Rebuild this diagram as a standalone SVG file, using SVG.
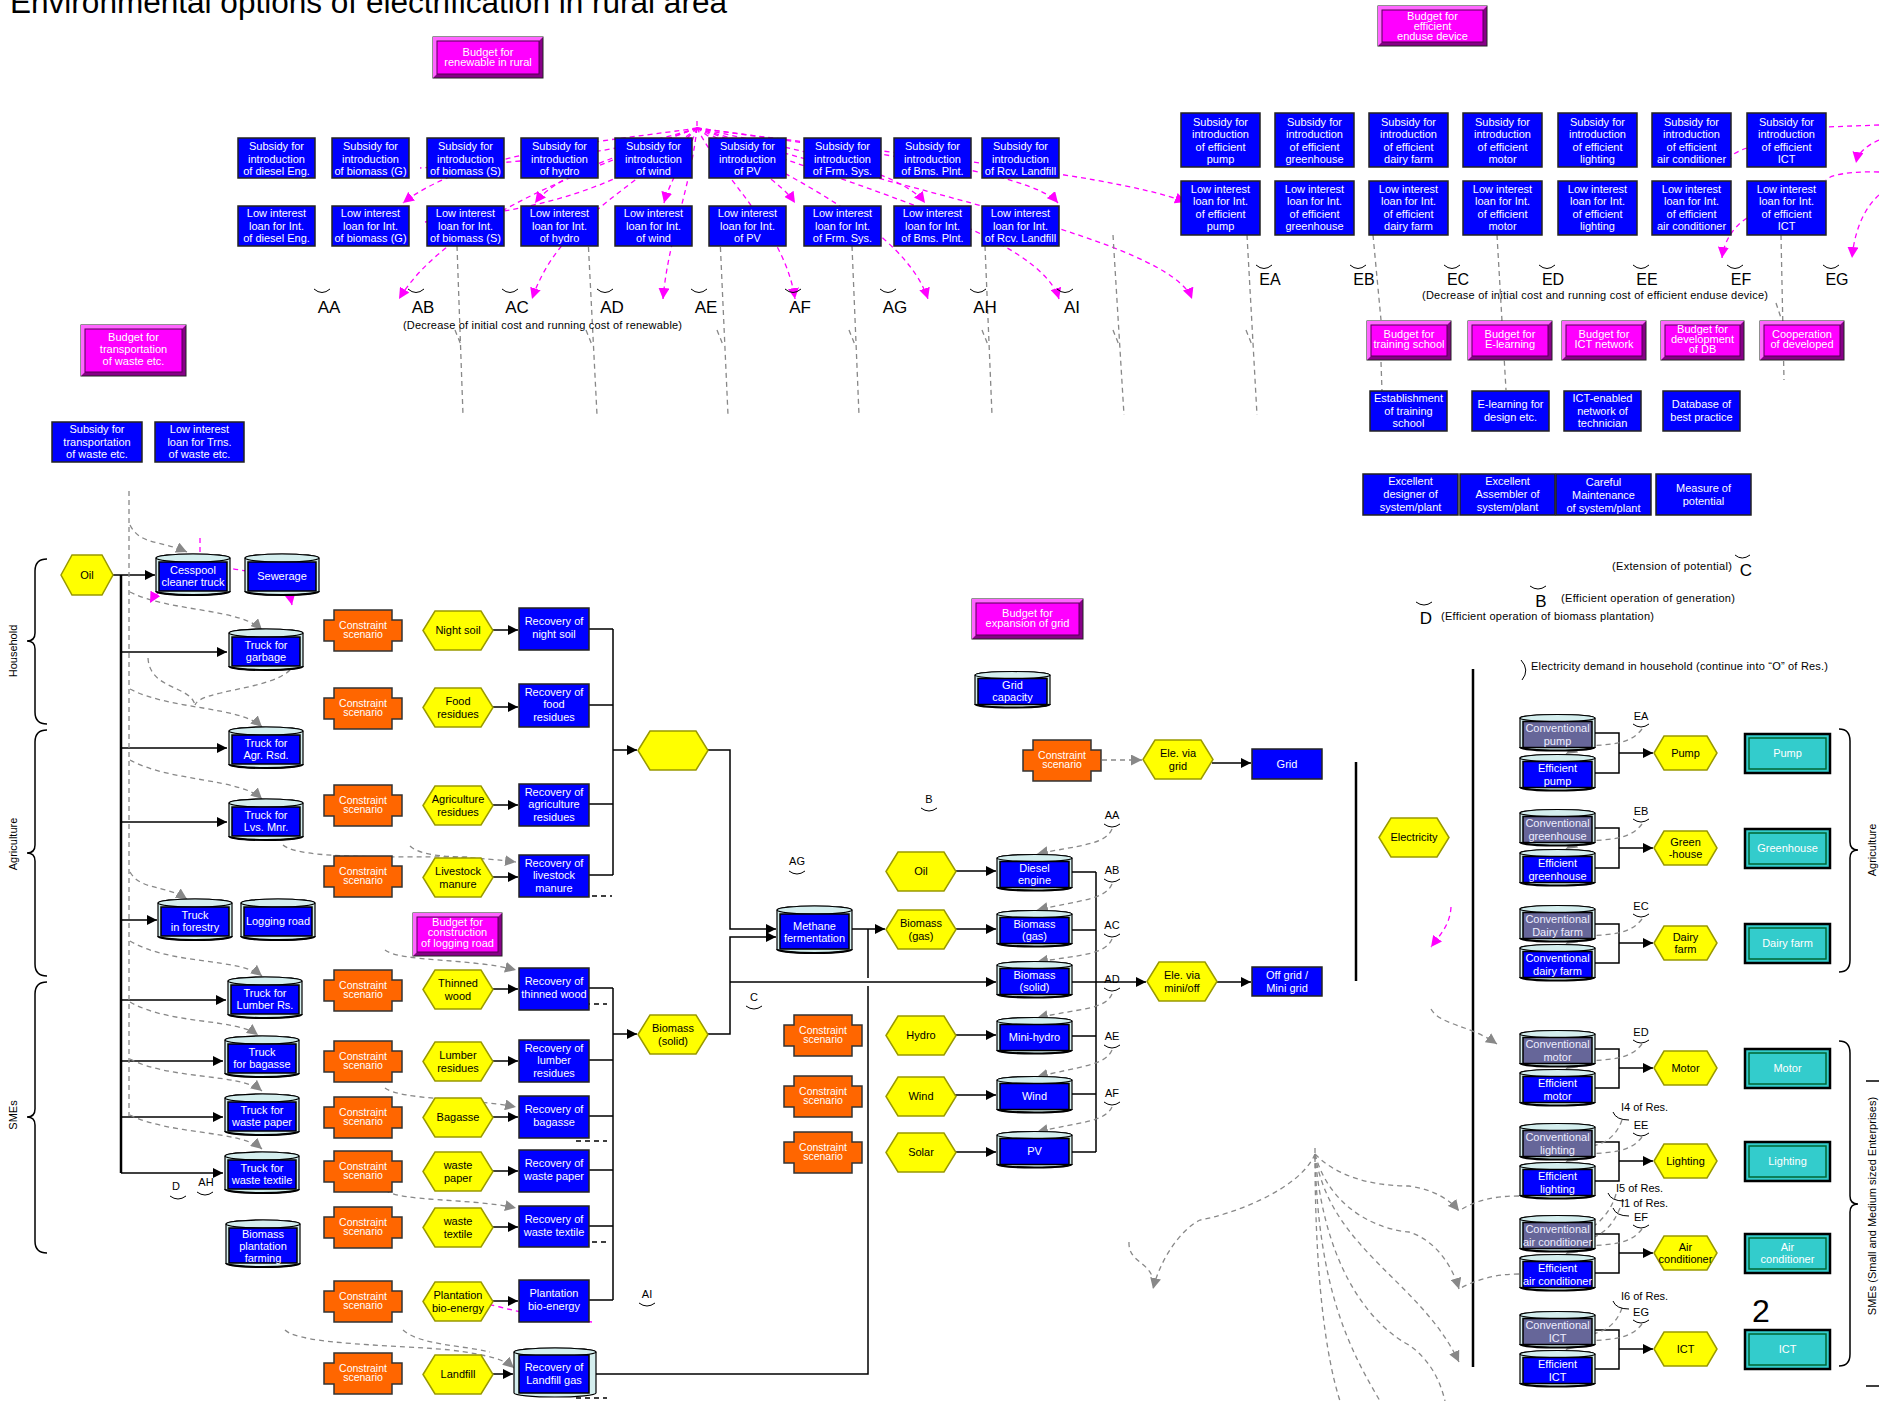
<svg xmlns="http://www.w3.org/2000/svg" width="1879" height="1401" viewBox="0 0 1879 1401">
<style>
text{font-family:"Liberation Sans","DejaVu Sans",sans-serif}
.w{fill:#fff;font-size:11px;text-anchor:middle}
.wc{fill:#fff;font-size:10.5px;text-anchor:middle}
.k{fill:#000;font-size:11px;text-anchor:middle}
.lb{fill:#000;font-size:17px;text-anchor:middle}
.le{fill:#000;font-size:16px;text-anchor:middle}
.sl{fill:#000;font-size:11px;text-anchor:middle}
.st{fill:#000;font-size:11px}
.bl{fill:#0000ff;stroke:#222;stroke-width:1.5}
.hx{fill:#ffff00;stroke:#999900;stroke-width:1.5}
.cs{fill:#ff6600;stroke:#333;stroke-width:1.5}
.mo{fill:#880088;stroke:#222;stroke-width:1}
.mh{fill:#ff66ff}
.mi{fill:#ff00ff;stroke:#550055;stroke-width:1}
.tl{fill:#33cccc;stroke:#000;stroke-width:2.5}
.ti{fill:none;stroke:#063;stroke-width:1.5}
.ln{fill:none;stroke:#000;stroke-width:1.5}
.lt{fill:none;stroke:#000;stroke-width:2.5}
.ar{fill:none;stroke:#000;stroke-width:1.5;marker-end:url(#ab)}
.gd{fill:none;stroke:#888;stroke-width:1.3;stroke-dasharray:5 4}
.ga{fill:none;stroke:#888;stroke-width:1.3;stroke-dasharray:5 4;marker-end:url(#ag)}
.md{fill:none;stroke:#ff00ff;stroke-width:1.3;stroke-dasharray:5 4}
.ma{fill:none;stroke:#ff00ff;stroke-width:1.3;stroke-dasharray:5 4;marker-end:url(#am)}
.arc{fill:none;stroke:#000;stroke-width:1}
.kd{fill:none;stroke:#000;stroke-width:1.3;stroke-dasharray:5 4}
.cyo{fill:#d4eeee;stroke:#000;stroke-width:1.2}
.cyb{fill:none;stroke:#000;stroke-width:2}
.cv{fill:#666699;stroke:#000;stroke-width:1.5}
.ef{fill:#0000ff;stroke:#000;stroke-width:1.5}
.wv{fill:#eeeeff;font-size:11px;text-anchor:middle}
</style>
<defs>
<marker id="ab" viewBox="0 0 10 10" refX="10" refY="5" markerWidth="10" markerHeight="10" markerUnits="userSpaceOnUse" orient="auto"><path d="M0,0 L10,5 L0,10 z" fill="#000"/></marker>
<marker id="ag" viewBox="0 0 10 10" refX="10" refY="5" markerWidth="11" markerHeight="11" markerUnits="userSpaceOnUse" orient="auto"><path d="M0,0 L10,5 L0,10 z" fill="#888"/></marker>
<marker id="am" viewBox="0 0 10 10" refX="10" refY="5" markerWidth="11" markerHeight="11" markerUnits="userSpaceOnUse" orient="auto"><path d="M0,0 L10,5 L0,10 z" fill="#ff00ff"/></marker>
<g id="cy74"><path d="M0,5 A37,4 0 0 1 74,5 V38 A37,4 0 0 1 0,38 Z" class="cyo"/><ellipse cx="37" cy="5" rx="37" ry="4" class="cyo"/><rect x="3" y="9" width="68" height="29" class="ef"/><path d="M0,38 A37,4 0 0 0 74,38" class="cyb"/></g>
<g id="cyE"><path d="M0,4 A37.5,3.5 0 0 1 75,4 V33 A37.5,3.5 0 0 1 0,33 Z" class="cyo"/><ellipse cx="37.5" cy="4" rx="37.5" ry="3.5" class="cyo"/><rect x="3" y="7.5" width="69" height="26" class="ef"/><path d="M0,33 A37.5,3.5 0 0 0 75,33" class="cyb"/></g>
<g id="cyC"><path d="M0,4 A37.5,3.5 0 0 1 75,4 V33 A37.5,3.5 0 0 1 0,33 Z" class="cyo"/><ellipse cx="37.5" cy="4" rx="37.5" ry="3.5" class="cyo"/><rect x="3" y="7.5" width="69" height="26" class="cv"/><path d="M0,33 A37.5,3.5 0 0 0 75,33" class="cyb"/></g>
<polygon id="hx70" points="0,19.5 12,0 58,0 70,19.5 58,39 12,39" class="hx"/>
<polygon id="hx63" points="0,17 10,0 53,0 63,17 53,34 10,34" class="hx"/>
<path id="cr" d="M10,0 H68 V10 H78 V31 H68 V41 H10 V31 H0 V10 H10 Z" class="cs"/>
</defs>
<rect width="1879" height="1401" fill="#fff"/>

<g id="title"><text x="10" y="13" font-size="31" textLength="717" lengthAdjust="spacingAndGlyphs">Environmental options of electrification in rural area</text></g>

<!-- ===== connectors ===== -->
<g id="connectors">
<path class="md" d="M697,121 V128"/>
<path class="ma" d="M697,128 C620,140 470,150 403,203"/>
<path class="ma" d="M697,128 C600,165 450,215 399,299"/>
<path class="ma" d="M697,128 C640,150 560,170 535,203"/>
<path class="ma" d="M697,128 C650,180 560,215 532,299"/>
<path class="ma" d="M697,128 C690,150 670,180 664,203"/>
<path class="ma" d="M697,128 C690,190 668,240 663,299"/>
<path class="ma" d="M697,128 C740,160 780,180 795,203"/>
<path class="ma" d="M697,128 C720,175 785,230 795,299"/>
<path class="ma" d="M697,128 C800,150 900,170 925,203"/>
<path class="ma" d="M697,128 C790,175 905,230 928,299"/>
<path class="ma" d="M697,128 C850,150 1030,170 1058,203"/>
<path class="ma" d="M697,128 C850,185 1040,235 1059,299"/>
<path class="ma" d="M697,128 C900,190 1170,240 1192,299"/>
<path class="ma" d="M697,128 C850,150 1100,170 1186,202"/>
<path class="md" d="M697,128 C600,160 470,165 420,168"/>
<path class="md" d="M697,128 C600,210 470,215 425,222"/>
<path class="md" d="M1879,125 L1826,127"/>
<path class="ma" d="M1879,140 C1868,145 1858,152 1856,163"/>
<path class="md" d="M1879,172 C1850,171 1830,175 1826,180"/>
<path class="ma" d="M1879,195 C1862,210 1854,235 1852,258"/>
<path class="ma" d="M1747,148 C1735,152 1726,158 1722,165"/>
<path class="ma" d="M1747,218 C1732,228 1724,242 1722,258"/>
<path class="gd" d="M457,246 L463,415 M455,330 L461,345"/>
<path class="gd" d="M588,238 L597,415 M586,330 L592,345"/>
<path class="gd" d="M720,238 L728,415 M717,330 L723,345"/>
<path class="gd" d="M852,246 L859,415 M849,330 L855,345"/>
<path class="gd" d="M985,246 L992,415 M982,330 L988,345"/>
<path class="gd" d="M1113,235 L1124,415 M1113,330 L1119,345"/>
<path class="gd" d="M1247,235 L1257,415 M1246,330 L1252,345"/>
<path class="gd" d="M1497,235 L1506,390"/>
<path class="gd" d="M1373,235 L1381,320 M1381,362 L1382,391"/>
<path class="gd" d="M1781,235 L1784,380 M1776,303 L1781,318"/>
<path class="ln" d="M113,575 H121"/>
<path class="lt" d="M121,575 V1173"/>
<path class="ar" d="M121,575 H155"/>
<path class="ar" d="M121,652 H227"/>
<path class="ar" d="M121,748 H227"/>
<path class="ar" d="M121,822 H227"/>
<path class="ar" d="M121,920 H157"/>
<path class="ar" d="M121,1000 H226"/>
<path class="ar" d="M121,1061 H223"/>
<path class="ar" d="M121,1117 H223"/>
<path class="ar" d="M121,1173 H223"/>
<path class="gd" d="M129,491 V1116"/>
<path class="ga" d="M130,525 C140,545 160,540 187,552"/>
<path class="ga" d="M130,592 C170,612 240,608 262,630"/>
<path class="gd" d="M148,658 C150,690 190,685 195,705 M290,670 C270,690 200,690 195,705"/>
<path class="ga" d="M130,689 C170,710 240,706 262,727"/>
<path class="ga" d="M130,760 C170,782 240,778 262,799"/>
<path class="ga" d="M130,872 C140,890 165,885 187,899"/>
<path class="ga" d="M130,941 C170,965 240,958 262,976"/>
<path class="ga" d="M130,1002 C170,1025 235,1018 258,1035"/>
<path class="ga" d="M130,1059 C170,1080 240,1073 262,1091"/>
<path class="ga" d="M130,1115 C170,1135 240,1130 262,1149"/>
<path class="ga" d="M283,845 C300,860 400,856 450,857 C480,858 500,860 516,862"/>
<path class="gd" d="M410,846 C420,856 450,857 470,857"/>
<path class="ga" d="M385,950 C400,962 470,958 516,970"/>
<path class="ga" d="M385,1088 C400,1100 470,1098 516,1107"/>
<path class="ga" d="M385,1190 C400,1202 470,1198 516,1208"/>
<path class="ga" d="M285,1330 C300,1345 400,1345 450,1350 C490,1355 505,1360 514,1368"/>
<path class="gd" d="M403,1330 C420,1345 460,1345 490,1352"/>
<path class="md" d="M200,538 V556"/>
<path class="ma" d="M200,556 C195,570 160,585 150,603"/>
<path class="ma" d="M200,556 C215,570 250,570 270,575 C285,585 290,595 292,605"/>
<path class="ma" d="M592,1322 C560,1318 530,1315 500,1307 C480,1302 465,1302 452,1302"/>
<path class="ar" d="M493,630 H518"/>
<path class="ar" d="M493,707 H518"/>
<path class="ar" d="M493,805 H518"/>
<path class="ar" d="M493,877 H518"/>
<path class="ar" d="M493,989 H518"/>
<path class="ar" d="M493,1061 H518"/>
<path class="ar" d="M493,1117 H518"/>
<path class="ar" d="M493,1171 H518"/>
<path class="ar" d="M493,1227 H518"/>
<path class="ar" d="M493,1301 H518"/>
<path class="ar" d="M493,1374 H513"/>
<path class="ln" d="M589,629 H613 M589,705 H613 M589,804 H613 M589,875 H613 M613,629 V875"/>
<path class="ar" d="M613,750 H637"/>
<path class="ln" d="M589,988 H613 M589,1060 H613 M589,1116 H613 M589,1170 H613 M589,1226 H613 M589,1300 H613 M613,988 V1300"/>
<path class="ar" d="M613,1034 H637"/>
<path class="kd" d="M592,896 H612 M576,1004 H607 M576,1141 H607 M592,1242 H607 M576,1398 H607"/>
<path class="ar" d="M707,750 H730 V929 H776"/>
<path class="ar" d="M707,1034 H730 V937 H776"/>
<path class="ar" d="M730,982 H996"/>
<path class="ar" d="M852,929 H885"/>
<path class="ln" d="M596,1374 H868 V986 M868,978 V929"/>
<path class="ar" d="M955,871 H996"/>
<path class="ar" d="M955,929 H996"/>
<path class="ar" d="M955,1035 H996"/>
<path class="ar" d="M955,1095 H996"/>
<path class="ar" d="M955,1152 H996"/>
<path class="ln" d="M1072,872 H1096 M1072,930 H1096 M1072,1036 H1096 M1072,1094 H1096 M1072,1152 H1096 M1096,872 V1152 M1072,982 H1096"/>
<path class="ar" d="M1096,982 H1146"/>
<path class="ar" d="M1216,982 H1251"/>
<path class="ga" d="M1102,760 H1142"/>
<path class="ar" d="M1212,763 H1251"/>
<path class="ga" d="M1112,829 C1105,845 1080,845 1037,854"/>
<path class="ga" d="M1112,884 C1105,900 1080,900 1037,910"/>
<path class="ga" d="M1112,939 C1105,955 1080,955 1037,962"/>
<path class="ga" d="M1112,994 C1105,1010 1080,1008 1037,1018"/>
<path class="ga" d="M1112,1050 C1105,1066 1080,1066 1037,1077"/>
<path class="ga" d="M1112,1107 C1105,1122 1080,1122 1037,1132"/>
<path class="lt" d="M1356,762 V981"/>
<path class="lt" d="M1473,669 V1367"/>
<path class="ma" d="M1451,907 C1450,925 1440,935 1431,947"/>
<path class="ga" d="M1431,1009 C1440,1025 1470,1025 1497,1044"/>
<path class="gd" d="M1315,1148 V1165"/>
<path class="ga" d="M1315,1154 C1300,1190 1230,1215 1200,1220 C1180,1230 1160,1260 1153,1289"/>
<path class="gd" d="M1129,1242 C1128,1262 1150,1262 1153,1280"/>
<path class="ga" d="M1315,1154 C1340,1180 1380,1186 1409,1186 C1435,1190 1450,1200 1459,1211"/>
<path class="gd" d="M1519,1196 C1495,1196 1475,1200 1459,1211"/>
<path class="ga" d="M1315,1154 C1330,1210 1380,1230 1409,1232 C1435,1240 1452,1265 1459,1289"/>
<path class="gd" d="M1519,1274 C1495,1274 1475,1280 1459,1289"/>
<path class="ga" d="M1315,1154 C1330,1250 1420,1280 1459,1362"/>
<path class="gd" d="M1315,1154 C1325,1280 1380,1330 1409,1345 C1430,1360 1440,1380 1445,1401"/>
<path class="gd" d="M1315,1154 C1318,1290 1350,1350 1380,1401"/>
<path class="gd" d="M1315,1154 C1315,1300 1330,1370 1340,1401"/>
<path class="ln" d="M1595,733 H1619 V773 H1595"/><path class="ar" d="M1619,753 H1653"/>
<path class="ln" d="M1595,828 H1619 V868 H1595"/><path class="ar" d="M1619,848 H1653"/>
<path class="ln" d="M1595,924 H1619 V963 H1595"/><path class="ar" d="M1619,943 H1653"/>
<path class="ln" d="M1595,1049 H1619 V1088 H1595"/><path class="ar" d="M1619,1068 H1653"/>
<path class="ln" d="M1595,1142 H1619 V1181 H1595"/><path class="ar" d="M1619,1161 H1653"/>
<path class="ln" d="M1595,1234 H1619 V1273 H1595"/><path class="ar" d="M1619,1253 H1653"/>
<path class="ln" d="M1595,1330 H1619 V1369 H1595"/><path class="ar" d="M1619,1349 H1653"/>
<path class="ga" d="M1642,729 C1630,745 1610,744 1590,746 C1580,748 1572,750 1566,754"/>
<path class="ga" d="M1642,824 C1630,840 1610,839 1590,841 C1580,843 1572,845 1566,849"/>
<path class="ga" d="M1642,919 C1630,935 1610,934 1590,936 C1580,938 1572,940 1566,944"/>
<path class="ga" d="M1642,1044 C1630,1060 1610,1059 1590,1061 C1580,1063 1572,1065 1566,1069"/>
<path class="ga" d="M1642,1137 C1630,1153 1610,1152 1590,1154 C1580,1156 1572,1158 1566,1162"/>
<path class="gd" d="M1622,1120 C1615,1140 1600,1145 1590,1146"/>
<path class="ga" d="M1642,1229 C1630,1245 1610,1244 1590,1246 C1580,1248 1572,1250 1566,1254"/>
<path class="gd" d="M1620,1208 C1612,1228 1600,1236 1590,1238 M1616,1194 C1610,1215 1595,1226 1588,1230"/>
<path class="ga" d="M1642,1324 C1630,1340 1610,1339 1590,1341 C1580,1343 1572,1345 1566,1350"/>
<path class="gd" d="M1622,1308 C1615,1328 1600,1333 1590,1334"/>
<path class="ln" d="M47,559 Q35,559 35,571 V633 Q35,641 27,641 Q35,641 35,649 V712 Q35,724 47,724"/>
<path class="ln" d="M47,730 Q35,730 35,742 V845 Q35,853 27,853 Q35,853 35,861 V964 Q35,976 47,976"/>
<path class="ln" d="M47,982 Q35,982 35,994 V1109 Q35,1117 27,1117 Q35,1117 35,1125 V1241 Q35,1253 47,1253"/>
<path class="ln" d="M1839,729 Q1850,729 1850,741 V842 Q1850,850 1858,850 Q1850,850 1850,858 V960 Q1850,972 1839,972"/>
<path class="ln" d="M1839,1041 Q1850,1041 1850,1053 V1196 Q1850,1204 1858,1204 Q1850,1204 1850,1212 V1354 Q1850,1366 1839,1366"/>
<path class="ln" d="M1866,1081 H1879 M1866,1386 H1879"/>
<path class="arc" d="M314,289 Q322,296 330,289 M408,289 Q416,296 424,289 M502,289 Q510,296 518,289 M597,289 Q605,296 613,289 M691,289 Q699,296 707,289 M785,289 Q793,296 801,289 M880,289 Q888,296 896,289 M970,289 Q978,296 986,289 M1057,289 Q1065,296 1073,289"/>
<path class="arc" d="M1256,265 Q1264,272 1272,265 M1350,265 Q1358,272 1366,265 M1444,265 Q1452,272 1460,265 M1539,265 Q1547,272 1555,265 M1633,265 Q1641,272 1649,265 M1727,265 Q1735,272 1743,265 M1823,265 Q1831,272 1839,265"/>
<path class="arc" d="M1735,555 Q1742,561 1750,555 M1530,586 Q1538,592 1546,586 M1416,602 Q1424,608 1432,602"/>
<path class="arc" d="M1521,660 Q1530,670 1522,680"/>
<path class="arc" d="M789,871 Q797,877 805,871 M921,808 Q929,814 937,808 M746,1006 Q754,1012 762,1006 M639,1303 Q647,1309 655,1303 M170,1196 Q178,1202 186,1196 M197,1192 Q205,1198 213,1192"/>
<path class="arc" d="M1104,824 Q1112,830 1120,824 M1104,879 Q1112,885 1120,879 M1104,934 Q1112,940 1120,934 M1104,988 Q1112,994 1120,988 M1104,1045 Q1112,1051 1120,1045 M1104,1102 Q1112,1108 1120,1102"/>
<path class="arc" d="M1633,724 Q1641,730 1649,724 M1633,819 Q1641,825 1649,819 M1633,914 Q1641,920 1649,914 M1633,1040 Q1641,1046 1649,1040 M1633,1133 Q1641,1139 1649,1133 M1633,1225 Q1641,1231 1649,1225 M1633,1320 Q1641,1326 1649,1320"/>
<path class="arc" d="M1613,1112 Q1616,1120 1629,1120 M1608,1193 Q1611,1201 1624,1201 M1613,1208 Q1616,1216 1629,1216 M1613,1301 Q1616,1309 1629,1309"/>
</g>

<!-- ===== labels ===== -->
<g id="labels">
<text class="lb" x="329" y="313">AA</text><text class="lb" x="423" y="313">AB</text><text class="lb" x="517" y="313">AC</text>
<text class="lb" x="612" y="313">AD</text><text class="lb" x="706" y="313">AE</text><text class="lb" x="800" y="313">AF</text>
<text class="lb" x="895" y="313">AG</text><text class="lb" x="985" y="313">AH</text><text class="lb" x="1072" y="313">AI</text>
<text class="st" x="403" y="329" font-size="10.5" textLength="279">(Decrease of initial cost and running cost of renewable)</text>
<text class="le" x="1270" y="285">EA</text><text class="le" x="1364" y="285">EB</text><text class="le" x="1458" y="285">EC</text>
<text class="le" x="1553" y="285">ED</text><text class="le" x="1647" y="285">EE</text><text class="le" x="1741" y="285">EF</text>
<text class="le" x="1837" y="285">EG</text>
<text class="st" x="1422" y="299" font-size="10.5" textLength="346">(Decrease of initial cost and running cost of efficient enduse device)</text>
<text class="st" x="1612" y="570" textLength="120">(Extension of potential)</text>
<text class="lb" x="1746" y="576">C</text>
<text class="lb" x="1541" y="607">B</text>
<text class="st" x="1561" y="602" textLength="174">(Efficient operation of generation)</text>
<text class="lb" x="1426" y="624">D</text>
<text class="st" x="1441" y="620" textLength="213">(Efficient operation of biomass plantation)</text>
<text class="st" x="1531" y="670" textLength="297">Electricity demand in household  (continue into “O” of Res.)</text>
<text class="sl" x="797" y="865">AG</text><text class="sl" x="929" y="803">B</text><text class="sl" x="754" y="1001">C</text>
<text class="sl" x="647" y="1298">AI</text><text class="sl" x="176" y="1190">D</text><text class="sl" x="206" y="1186">AH</text>
<text class="sl" x="1112" y="819">AA</text><text class="sl" x="1112" y="874">AB</text><text class="sl" x="1112" y="929">AC</text>
<text class="sl" x="1112" y="983">AD</text><text class="sl" x="1112" y="1040">AE</text><text class="sl" x="1112" y="1097">AF</text>
<text class="sl" x="1641" y="720">EA</text><text class="sl" x="1641" y="815">EB</text><text class="sl" x="1641" y="910">EC</text>
<text class="sl" x="1641" y="1036">ED</text><text class="sl" x="1641" y="1129">EE</text><text class="sl" x="1641" y="1221">EF</text>
<text class="sl" x="1641" y="1316">EG</text>
<text class="st" x="1621" y="1111">I4 of Res.</text><text class="st" x="1616" y="1192">I5 of Res.</text>
<text class="st" x="1621" y="1207">I1 of Res.</text><text class="st" x="1621" y="1300">I6 of Res.</text>
<text x="1752" y="1322" font-size="32">2</text>
<text class="k" transform="translate(17,651) rotate(-90)">Household</text>
<text class="k" transform="translate(17,844) rotate(-90)">Agriculture</text>
<text class="k" transform="translate(17,1115) rotate(-90)">SMEs</text>
<text class="k" transform="translate(1876,850) rotate(-90)">Agriculture</text>
<text class="k" transform="translate(1876,1206) rotate(-90)">SMEs (Small and Medium sized Enterprises)</text>
</g>

<!-- ===== budgets ===== -->
<g id="budget-renewable" transform="translate(433,37)"><rect width="110" height="41" class="mo"/><polygon points="0,0 110,0 106,4 4,4 4,37 0,41" class="mh"/><rect x="4" y="4" width="102" height="33" class="mi"/><text class="w"><tspan x="55" y="19">Budget for</tspan><tspan x="55" y="29">renewable in rural</tspan></text></g>
<g id="budget-enduse" transform="translate(1378,6)"><rect width="109" height="40" class="mo"/><polygon points="0,0 109,0 105,4 4,4 4,36 0,40" class="mh"/><rect x="4" y="4" width="101" height="32" class="mi"/><text class="w"><tspan x="54.5" y="14">Budget for</tspan><tspan x="54.5" y="24">efficient</tspan><tspan x="54.5" y="34">enduse device</tspan></text></g>
<g id="budget-transport" transform="translate(81,325)"><rect width="105" height="51" class="mo"/><polygon points="0,0 105,0 101,4 4,4 4,47 0,51" class="mh"/><rect x="4" y="4" width="97" height="43" class="mi"/><text class="w"><tspan x="52.5" y="16">Budget for</tspan><tspan x="52.5" y="28">transportation</tspan><tspan x="52.5" y="40">of waste etc.</tspan></text></g>
<g id="budget-grid" transform="translate(972,599)"><rect width="111" height="40" class="mo"/><polygon points="0,0 111,0 107,4 4,4 4,36 0,40" class="mh"/><rect x="4" y="4" width="103" height="32" class="mi"/><text class="w"><tspan x="55.5" y="18">Budget for</tspan><tspan x="55.5" y="28">expansion of grid</tspan></text></g>
<g id="budget-logging" transform="translate(413,913)"><rect width="89" height="43" class="mo"/><polygon points="0,0 89,0 85,4 4,4 4,39 0,43" class="mh"/><rect x="4" y="4" width="81" height="35" class="mi"/><text class="w" font-size="10.5"><tspan x="44.5" y="13">Budget for</tspan><tspan x="44.5" y="23">construction</tspan><tspan x="44.5" y="34">of logging road</tspan></text></g>
<g id="budget-training" transform="translate(1367,321)"><rect width="84" height="39" class="mo"/><polygon points="0,0 84,0 80,4 4,4 4,35 0,39" class="mh"/><rect x="4" y="4" width="76" height="31" class="mi"/><text class="w"><tspan x="42" y="17">Budget for</tspan><tspan x="42" y="27">training school</tspan></text></g>
<g id="budget-elearning" transform="translate(1468,321)"><rect width="84" height="39" class="mo"/><polygon points="0,0 84,0 80,4 4,4 4,35 0,39" class="mh"/><rect x="4" y="4" width="76" height="31" class="mi"/><text class="w"><tspan x="42" y="17">Budget for</tspan><tspan x="42" y="27">E-learning</tspan></text></g>
<g id="budget-ict" transform="translate(1562,321)"><rect width="84" height="39" class="mo"/><polygon points="0,0 84,0 80,4 4,4 4,35 0,39" class="mh"/><rect x="4" y="4" width="76" height="31" class="mi"/><text class="w"><tspan x="42" y="17">Budget for</tspan><tspan x="42" y="27">ICT network</tspan></text></g>
<g id="budget-db" transform="translate(1661,321)"><rect width="83" height="39" class="mo"/><polygon points="0,0 83,0 79,4 4,4 4,35 0,39" class="mh"/><rect x="4" y="4" width="75" height="31" class="mi"/><text class="w"><tspan x="41.5" y="12">Budget for</tspan><tspan x="41.5" y="22">development</tspan><tspan x="41.5" y="32">of DB</tspan></text></g>
<g id="coop-developed" transform="translate(1760,321)"><rect width="84" height="39" class="mo"/><polygon points="0,0 84,0 80,4 4,4 4,35 0,39" class="mh"/><rect x="4" y="4" width="76" height="31" class="mi"/><text class="w"><tspan x="42" y="17">Cooperation</tspan><tspan x="42" y="27">of developed</tspan></text></g>

<!-- ===== renewable subsidy / loan ===== -->
<g id="sub-diesel" transform="translate(238,138)"><rect width="77" height="40" class="bl"/><text class="w"><tspan x="38.5" y="12">Subsidy for</tspan><tspan x="38.5" y="25">introduction</tspan><tspan x="38.5" y="37">of diesel Eng.</tspan></text></g>
<g id="sub-biomassG" transform="translate(332,138)"><rect width="77" height="40" class="bl"/><text class="w"><tspan x="38.5" y="12">Subsidy for</tspan><tspan x="38.5" y="25">introduction</tspan><tspan x="38.5" y="37">of biomass (G)</tspan></text></g>
<g id="sub-biomassS" transform="translate(427,138)"><rect width="77" height="40" class="bl"/><text class="w"><tspan x="38.5" y="12">Subsidy for</tspan><tspan x="38.5" y="25">introduction</tspan><tspan x="38.5" y="37">of biomass (S)</tspan></text></g>
<g id="sub-hydro" transform="translate(521,138)"><rect width="77" height="40" class="bl"/><text class="w"><tspan x="38.5" y="12">Subsidy for</tspan><tspan x="38.5" y="25">introduction</tspan><tspan x="38.5" y="37">of hydro</tspan></text></g>
<g id="sub-wind" transform="translate(615,138)"><rect width="77" height="40" class="bl"/><text class="w"><tspan x="38.5" y="12">Subsidy for</tspan><tspan x="38.5" y="25">introduction</tspan><tspan x="38.5" y="37">of wind</tspan></text></g>
<g id="sub-pv" transform="translate(709,138)"><rect width="77" height="40" class="bl"/><text class="w"><tspan x="38.5" y="12">Subsidy for</tspan><tspan x="38.5" y="25">introduction</tspan><tspan x="38.5" y="37">of PV</tspan></text></g>
<g id="sub-frm" transform="translate(804,138)"><rect width="77" height="40" class="bl"/><text class="w"><tspan x="38.5" y="12">Subsidy for</tspan><tspan x="38.5" y="25">introduction</tspan><tspan x="38.5" y="37">of Frm. Sys.</tspan></text></g>
<g id="sub-bms" transform="translate(894,138)"><rect width="77" height="40" class="bl"/><text class="w"><tspan x="38.5" y="12">Subsidy for</tspan><tspan x="38.5" y="25">introduction</tspan><tspan x="38.5" y="37">of Bms. Plnt.</tspan></text></g>
<g id="sub-rcv" transform="translate(982,138)"><rect width="77" height="40" class="bl"/><text class="w"><tspan x="38.5" y="12">Subsidy for</tspan><tspan x="38.5" y="25">introduction</tspan><tspan x="38.5" y="37">of Rcv. Landfill</tspan></text></g>
<g id="loan-diesel" transform="translate(238,206)"><rect width="77" height="40" class="bl"/><text class="w"><tspan x="38.5" y="11">Low interest</tspan><tspan x="38.5" y="24">loan for Int.</tspan><tspan x="38.5" y="36">of diesel Eng.</tspan></text></g>
<g id="loan-biomassG" transform="translate(332,206)"><rect width="77" height="40" class="bl"/><text class="w"><tspan x="38.5" y="11">Low interest</tspan><tspan x="38.5" y="24">loan for Int.</tspan><tspan x="38.5" y="36">of biomass (G)</tspan></text></g>
<g id="loan-biomassS" transform="translate(427,206)"><rect width="77" height="40" class="bl"/><text class="w"><tspan x="38.5" y="11">Low interest</tspan><tspan x="38.5" y="24">loan for Int.</tspan><tspan x="38.5" y="36">of biomass (S)</tspan></text></g>
<g id="loan-hydro" transform="translate(521,206)"><rect width="77" height="40" class="bl"/><text class="w"><tspan x="38.5" y="11">Low interest</tspan><tspan x="38.5" y="24">loan for Int.</tspan><tspan x="38.5" y="36">of hydro</tspan></text></g>
<g id="loan-wind" transform="translate(615,206)"><rect width="77" height="40" class="bl"/><text class="w"><tspan x="38.5" y="11">Low interest</tspan><tspan x="38.5" y="24">loan for Int.</tspan><tspan x="38.5" y="36">of wind</tspan></text></g>
<g id="loan-pv" transform="translate(709,206)"><rect width="77" height="40" class="bl"/><text class="w"><tspan x="38.5" y="11">Low interest</tspan><tspan x="38.5" y="24">loan for Int.</tspan><tspan x="38.5" y="36">of PV</tspan></text></g>
<g id="loan-frm" transform="translate(804,206)"><rect width="77" height="40" class="bl"/><text class="w"><tspan x="38.5" y="11">Low interest</tspan><tspan x="38.5" y="24">loan for Int.</tspan><tspan x="38.5" y="36">of Frm. Sys.</tspan></text></g>
<g id="loan-bms" transform="translate(894,206)"><rect width="77" height="40" class="bl"/><text class="w"><tspan x="38.5" y="11">Low interest</tspan><tspan x="38.5" y="24">loan for Int.</tspan><tspan x="38.5" y="36">of Bms. Plnt.</tspan></text></g>
<g id="loan-rcv" transform="translate(982,206)"><rect width="77" height="40" class="bl"/><text class="w"><tspan x="38.5" y="11">Low interest</tspan><tspan x="38.5" y="24">loan for Int.</tspan><tspan x="38.5" y="36">of Rcv. Landfill</tspan></text></g>

<!-- ===== efficient subsidy / loan ===== -->
<g id="esub-pump" transform="translate(1181,113)"><rect width="79" height="54" class="bl"/><text class="w"><tspan x="39.5" y="13">Subsidy for</tspan><tspan x="39.5" y="25">introduction</tspan><tspan x="39.5" y="38">of efficient</tspan><tspan x="39.5" y="50">pump</tspan></text></g>
<g id="esub-greenhouse" transform="translate(1275,113)"><rect width="79" height="54" class="bl"/><text class="w"><tspan x="39.5" y="13">Subsidy for</tspan><tspan x="39.5" y="25">introduction</tspan><tspan x="39.5" y="38">of efficient</tspan><tspan x="39.5" y="50">greenhouse</tspan></text></g>
<g id="esub-dairy" transform="translate(1369,113)"><rect width="79" height="54" class="bl"/><text class="w"><tspan x="39.5" y="13">Subsidy for</tspan><tspan x="39.5" y="25">introduction</tspan><tspan x="39.5" y="38">of efficient</tspan><tspan x="39.5" y="50">dairy farm</tspan></text></g>
<g id="esub-motor" transform="translate(1463,113)"><rect width="79" height="54" class="bl"/><text class="w"><tspan x="39.5" y="13">Subsidy for</tspan><tspan x="39.5" y="25">introduction</tspan><tspan x="39.5" y="38">of efficient</tspan><tspan x="39.5" y="50">motor</tspan></text></g>
<g id="esub-lighting" transform="translate(1558,113)"><rect width="79" height="54" class="bl"/><text class="w"><tspan x="39.5" y="13">Subsidy for</tspan><tspan x="39.5" y="25">introduction</tspan><tspan x="39.5" y="38">of efficient</tspan><tspan x="39.5" y="50">lighting</tspan></text></g>
<g id="esub-ac" transform="translate(1652,113)"><rect width="79" height="54" class="bl"/><text class="w"><tspan x="39.5" y="13">Subsidy for</tspan><tspan x="39.5" y="25">introduction</tspan><tspan x="39.5" y="38">of efficient</tspan><tspan x="39.5" y="50">air conditioner</tspan></text></g>
<g id="esub-ict" transform="translate(1747,113)"><rect width="79" height="54" class="bl"/><text class="w"><tspan x="39.5" y="13">Subsidy for</tspan><tspan x="39.5" y="25">introduction</tspan><tspan x="39.5" y="38">of efficient</tspan><tspan x="39.5" y="50">ICT</tspan></text></g>
<g id="eloan-pump" transform="translate(1181,181)"><rect width="79" height="54" class="bl"/><text class="w"><tspan x="39.5" y="12">Low interest</tspan><tspan x="39.5" y="24">loan for Int.</tspan><tspan x="39.5" y="37">of efficient</tspan><tspan x="39.5" y="49">pump</tspan></text></g>
<g id="eloan-greenhouse" transform="translate(1275,181)"><rect width="79" height="54" class="bl"/><text class="w"><tspan x="39.5" y="12">Low interest</tspan><tspan x="39.5" y="24">loan for Int.</tspan><tspan x="39.5" y="37">of efficient</tspan><tspan x="39.5" y="49">greenhouse</tspan></text></g>
<g id="eloan-dairy" transform="translate(1369,181)"><rect width="79" height="54" class="bl"/><text class="w"><tspan x="39.5" y="12">Low interest</tspan><tspan x="39.5" y="24">loan for Int.</tspan><tspan x="39.5" y="37">of efficient</tspan><tspan x="39.5" y="49">dairy farm</tspan></text></g>
<g id="eloan-motor" transform="translate(1463,181)"><rect width="79" height="54" class="bl"/><text class="w"><tspan x="39.5" y="12">Low interest</tspan><tspan x="39.5" y="24">loan for Int.</tspan><tspan x="39.5" y="37">of efficient</tspan><tspan x="39.5" y="49">motor</tspan></text></g>
<g id="eloan-lighting" transform="translate(1558,181)"><rect width="79" height="54" class="bl"/><text class="w"><tspan x="39.5" y="12">Low interest</tspan><tspan x="39.5" y="24">loan for Int.</tspan><tspan x="39.5" y="37">of efficient</tspan><tspan x="39.5" y="49">lighting</tspan></text></g>
<g id="eloan-ac" transform="translate(1652,181)"><rect width="79" height="54" class="bl"/><text class="w"><tspan x="39.5" y="12">Low interest</tspan><tspan x="39.5" y="24">loan for Int.</tspan><tspan x="39.5" y="37">of efficient</tspan><tspan x="39.5" y="49">air conditioner</tspan></text></g>
<g id="eloan-ict" transform="translate(1747,181)"><rect width="79" height="54" class="bl"/><text class="w"><tspan x="39.5" y="12">Low interest</tspan><tspan x="39.5" y="24">loan for Int.</tspan><tspan x="39.5" y="37">of efficient</tspan><tspan x="39.5" y="49">ICT</tspan></text></g>

<!-- capacity building -->
<g id="est-training" transform="translate(1370,391)"><rect width="77" height="40" class="bl"/><text class="w"><tspan x="38.5" y="11">Establishment</tspan><tspan x="38.5" y="24">of training</tspan><tspan x="38.5" y="36">school</tspan></text></g>
<g id="elearning" transform="translate(1472,391)"><rect width="77" height="40" class="bl"/><text class="w"><tspan x="38.5" y="17">E-learning for</tspan><tspan x="38.5" y="30">design etc.</tspan></text></g>
<g id="ict-network" transform="translate(1564,391)"><rect width="77" height="40" class="bl"/><text class="w"><tspan x="38.5" y="11">ICT-enabled</tspan><tspan x="38.5" y="24">network of</tspan><tspan x="38.5" y="36">technician</tspan></text></g>
<g id="database" transform="translate(1663,391)"><rect width="77" height="40" class="bl"/><text class="w"><tspan x="38.5" y="17">Database of</tspan><tspan x="38.5" y="30">best practice</tspan></text></g>
<g id="exc-designer" transform="translate(1363,474)"><rect width="95" height="41" class="bl"/><text class="w"><tspan x="47.5" y="11">Excellent</tspan><tspan x="47.5" y="24">designer of</tspan><tspan x="47.5" y="37">system/plant</tspan></text></g>
<g id="exc-assembler" transform="translate(1460,474)"><rect width="95" height="41" class="bl"/><text class="w"><tspan x="47.5" y="11">Excellent</tspan><tspan x="47.5" y="24">Assembler of</tspan><tspan x="47.5" y="37">system/plant</tspan></text></g>
<g id="careful-maint" transform="translate(1556,474)"><rect width="95" height="41" class="bl"/><text class="w"><tspan x="47.5" y="12">Careful</tspan><tspan x="47.5" y="25">Maintenance</tspan><tspan x="47.5" y="38">of system/plant</tspan></text></g>
<g id="measure-potential" transform="translate(1656,474)"><rect width="95" height="41" class="bl"/><text class="w"><tspan x="47.5" y="18">Measure of</tspan><tspan x="47.5" y="31">potential</tspan></text></g>
<g id="sub-transport" transform="translate(52,422)"><rect width="90" height="40" class="bl"/><text class="w"><tspan x="45" y="11">Subsidy for</tspan><tspan x="45" y="24">transportation</tspan><tspan x="45" y="36">of waste etc.</tspan></text></g>
<g id="loan-transport" transform="translate(155,422)"><rect width="89" height="40" class="bl"/><text class="w"><tspan x="44.5" y="11">Low interest</tspan><tspan x="44.5" y="24">loan for Trns.</tspan><tspan x="44.5" y="36">of waste etc.</tspan></text></g>

<!-- ===== left: oil and trucks ===== -->
<g id="oil-left" transform="translate(61,555)"><polygon points="0,20 11,0 41,0 52,20 41,40 11,40" class="hx"/><text class="k" x="26" y="24">Oil</text></g>
<g id="cesspool" transform="translate(156,553)"><use href="#cy74"/><text class="w"><tspan x="37" y="21">Cesspool</tspan><tspan x="37" y="33">cleaner truck</tspan></text></g>
<g id="sewerage" transform="translate(245,553)"><use href="#cy74"/><text class="w" x="37" y="27">Sewerage</text></g>
<g id="truck-garbage" transform="translate(229,628)"><use href="#cy74"/><text class="w"><tspan x="37" y="21">Truck for</tspan><tspan x="37" y="33">garbage</tspan></text></g>
<g id="truck-agr" transform="translate(229,726)"><use href="#cy74"/><text class="w"><tspan x="37" y="21">Truck for</tspan><tspan x="37" y="33">Agr. Rsd.</tspan></text></g>
<g id="truck-lvs" transform="translate(229,798)"><use href="#cy74"/><text class="w"><tspan x="37" y="21">Truck for</tspan><tspan x="37" y="33">Lvs. Mnr.</tspan></text></g>
<g id="truck-forestry" transform="translate(158,898)"><use href="#cy74"/><text class="w"><tspan x="37" y="21">Truck</tspan><tspan x="37" y="33">in forestry</tspan></text></g>
<g id="logging-road" transform="translate(241,898)"><use href="#cy74"/><text class="w" x="37" y="27">Logging road</text></g>
<g id="truck-lumber" transform="translate(228,976)"><use href="#cy74"/><text class="w"><tspan x="37" y="21">Truck for</tspan><tspan x="37" y="33">Lumber Rs.</tspan></text></g>
<g id="truck-bagasse" transform="translate(225,1035)"><use href="#cy74"/><text class="w"><tspan x="37" y="21">Truck</tspan><tspan x="37" y="33">for bagasse</tspan></text></g>
<g id="truck-paper" transform="translate(225,1093)"><use href="#cy74"/><text class="w"><tspan x="37" y="21">Truck for</tspan><tspan x="37" y="33">waste paper</tspan></text></g>
<g id="truck-textile" transform="translate(225,1151)"><use href="#cy74"/><text class="w"><tspan x="37" y="21">Truck for</tspan><tspan x="37" y="33">waste textile</tspan></text></g>
<g id="biomass-plantation" transform="translate(226,1219)"><path d="M0,5 A37,4 0 0 1 74,5 V44 A37,4 0 0 1 0,44 Z" class="cyo"/><ellipse cx="37" cy="5" rx="37" ry="4" class="cyo"/><rect x="3" y="9" width="68" height="35" class="ef"/><path d="M0,44 A37,4 0 0 0 74,44" class="cyb"/><text class="w"><tspan x="37" y="19">Biomass</tspan><tspan x="37" y="31">plantation</tspan><tspan x="37" y="43">farming</tspan></text></g>

<!-- ===== constraint scenarios ===== -->
<g id="cs-nightsoil" transform="translate(324,610)"><use href="#cr"/><text class="wc"><tspan x="39" y="19">Constraint</tspan><tspan x="39" y="28">scenario</tspan></text></g>
<g id="cs-food" transform="translate(324,688)"><use href="#cr"/><text class="wc"><tspan x="39" y="19">Constraint</tspan><tspan x="39" y="28">scenario</tspan></text></g>
<g id="cs-agri" transform="translate(324,785)"><use href="#cr"/><text class="wc"><tspan x="39" y="19">Constraint</tspan><tspan x="39" y="28">scenario</tspan></text></g>
<g id="cs-livestock" transform="translate(324,856)"><use href="#cr"/><text class="wc"><tspan x="39" y="19">Constraint</tspan><tspan x="39" y="28">scenario</tspan></text></g>
<g id="cs-thinned" transform="translate(324,970)"><use href="#cr"/><text class="wc"><tspan x="39" y="19">Constraint</tspan><tspan x="39" y="28">scenario</tspan></text></g>
<g id="cs-lumber" transform="translate(324,1041)"><use href="#cr"/><text class="wc"><tspan x="39" y="19">Constraint</tspan><tspan x="39" y="28">scenario</tspan></text></g>
<g id="cs-bagasse" transform="translate(324,1097)"><use href="#cr"/><text class="wc"><tspan x="39" y="19">Constraint</tspan><tspan x="39" y="28">scenario</tspan></text></g>
<g id="cs-paper" transform="translate(324,1151)"><use href="#cr"/><text class="wc"><tspan x="39" y="19">Constraint</tspan><tspan x="39" y="28">scenario</tspan></text></g>
<g id="cs-textile" transform="translate(324,1207)"><use href="#cr"/><text class="wc"><tspan x="39" y="19">Constraint</tspan><tspan x="39" y="28">scenario</tspan></text></g>
<g id="cs-plantation" transform="translate(324,1281)"><use href="#cr"/><text class="wc"><tspan x="39" y="19">Constraint</tspan><tspan x="39" y="28">scenario</tspan></text></g>
<g id="cs-landfill" transform="translate(324,1353)"><use href="#cr"/><text class="wc"><tspan x="39" y="19">Constraint</tspan><tspan x="39" y="28">scenario</tspan></text></g>
<g id="cs-hydro" transform="translate(784,1015)"><use href="#cr"/><text class="wc"><tspan x="39" y="19">Constraint</tspan><tspan x="39" y="28">scenario</tspan></text></g>
<g id="cs-wind" transform="translate(784,1076)"><use href="#cr"/><text class="wc"><tspan x="39" y="19">Constraint</tspan><tspan x="39" y="28">scenario</tspan></text></g>
<g id="cs-solar" transform="translate(784,1132)"><use href="#cr"/><text class="wc"><tspan x="39" y="19">Constraint</tspan><tspan x="39" y="28">scenario</tspan></text></g>
<g id="cs-grid" transform="translate(1023,740)"><use href="#cr"/><text class="wc"><tspan x="39" y="19">Constraint</tspan><tspan x="39" y="28">scenario</tspan></text></g>

<!-- ===== materials ===== -->
<g id="m-nightsoil" transform="translate(423,611)"><use href="#hx70"/><text class="k" x="35" y="23">Night soil</text></g>
<g id="m-food" transform="translate(423,688)"><use href="#hx70"/><text class="k"><tspan x="35" y="17">Food</tspan><tspan x="35" y="30">residues</tspan></text></g>
<g id="m-agri" transform="translate(423,786)"><use href="#hx70"/><text class="k"><tspan x="35" y="17">Agriculture</tspan><tspan x="35" y="30">residues</tspan></text></g>
<g id="m-livestock" transform="translate(423,858)"><use href="#hx70"/><text class="k"><tspan x="35" y="17">Livestock</tspan><tspan x="35" y="30">manure</tspan></text></g>
<g id="m-thinned" transform="translate(423,970)"><use href="#hx70"/><text class="k"><tspan x="35" y="17">Thinned</tspan><tspan x="35" y="30">wood</tspan></text></g>
<g id="m-lumber" transform="translate(423,1042)"><use href="#hx70"/><text class="k"><tspan x="35" y="17">Lumber</tspan><tspan x="35" y="30">residues</tspan></text></g>
<g id="m-bagasse" transform="translate(423,1098)"><use href="#hx70"/><text class="k" x="35" y="23">Bagasse</text></g>
<g id="m-paper" transform="translate(423,1152)"><use href="#hx70"/><text class="k"><tspan x="35" y="17">waste</tspan><tspan x="35" y="30">paper</tspan></text></g>
<g id="m-textile" transform="translate(423,1208)"><use href="#hx70"/><text class="k"><tspan x="35" y="17">waste</tspan><tspan x="35" y="30">textile</tspan></text></g>
<g id="m-plantation" transform="translate(423,1282)"><use href="#hx70"/><text class="k"><tspan x="35" y="17">Plantation</tspan><tspan x="35" y="30">bio-energy</tspan></text></g>
<g id="m-landfill" transform="translate(423,1355)"><use href="#hx70"/><text class="k" x="35" y="23">Landfill</text></g>

<!-- ===== recovery ===== -->
<g id="r-nightsoil" transform="translate(519,608)"><rect width="70" height="42" class="bl"/><text class="w"><tspan x="35" y="17">Recovery of</tspan><tspan x="35" y="30">night soil</tspan></text></g>
<g id="r-food" transform="translate(519,684)"><rect width="70" height="43" class="bl"/><text class="w"><tspan x="35" y="12">Recovery of</tspan><tspan x="35" y="24">food</tspan><tspan x="35" y="37">residues</tspan></text></g>
<g id="r-agri" transform="translate(519,784)"><rect width="70" height="42" class="bl"/><text class="w"><tspan x="35" y="12">Recovery of</tspan><tspan x="35" y="24">agriculture</tspan><tspan x="35" y="37">residues</tspan></text></g>
<g id="r-livestock" transform="translate(519,855)"><rect width="70" height="42" class="bl"/><text class="w"><tspan x="35" y="12">Recovery of</tspan><tspan x="35" y="24">livestock</tspan><tspan x="35" y="37">manure</tspan></text></g>
<g id="r-thinned" transform="translate(519,968)"><rect width="70" height="42" class="bl"/><text class="w"><tspan x="35" y="17">Recovery of</tspan><tspan x="35" y="30">thinned wood</tspan></text></g>
<g id="r-lumber" transform="translate(519,1040)"><rect width="70" height="42" class="bl"/><text class="w"><tspan x="35" y="12">Recovery of</tspan><tspan x="35" y="24">lumber</tspan><tspan x="35" y="37">residues</tspan></text></g>
<g id="r-bagasse" transform="translate(519,1096)"><rect width="70" height="42" class="bl"/><text class="w"><tspan x="35" y="17">Recovery of</tspan><tspan x="35" y="30">bagasse</tspan></text></g>
<g id="r-paper" transform="translate(519,1150)"><rect width="70" height="42" class="bl"/><text class="w"><tspan x="35" y="17">Recovery of</tspan><tspan x="35" y="30">waste paper</tspan></text></g>
<g id="r-textile" transform="translate(519,1206)"><rect width="70" height="41" class="bl"/><text class="w"><tspan x="35" y="17">Recovery of</tspan><tspan x="35" y="30">waste textile</tspan></text></g>
<g id="r-plantation" transform="translate(519,1280)"><rect width="70" height="42" class="bl"/><text class="w"><tspan x="35" y="17">Plantation</tspan><tspan x="35" y="30">bio-energy</tspan></text></g>
<g id="r-landfill" transform="translate(514,1347)"><path d="M0,5 A41,4 0 0 1 82,5 V46 A41,4 0 0 1 0,46 Z" class="cyo"/><ellipse cx="41" cy="5" rx="41" ry="4" class="cyo"/><rect x="5" y="8" width="70" height="38" class="ef"/><text class="w"><tspan x="40" y="24">Recovery of</tspan><tspan x="40" y="37">Landfill gas</tspan></text></g>

<!-- ===== intermediate ===== -->
<g id="hex-gas-mix" transform="translate(638,731)"><use href="#hx70"/></g>
<g id="hex-biomass-solid" transform="translate(638,1015)"><use href="#hx70"/><text class="k"><tspan x="35" y="17">Biomass</tspan><tspan x="35" y="30">(solid)</tspan></text></g>
<g id="methane" transform="translate(777,905)"><path d="M0,5 A37.5,4 0 0 1 75,5 V44 A37.5,4 0 0 1 0,44 Z" class="cyo"/><ellipse cx="37.5" cy="5" rx="37.5" ry="4" class="cyo"/><rect x="3" y="9" width="69" height="35" class="ef"/><path d="M0,44 A37.5,4 0 0 0 75,44" class="cyb"/><text class="w"><tspan x="37.5" y="25">Methane</tspan><tspan x="37.5" y="37">fermentation</tspan></text></g>

<!-- ===== generation ===== -->
<g id="h-oil" transform="translate(886,852)"><use href="#hx70"/><text class="k" x="35" y="23">Oil</text></g>
<g id="h-biogas" transform="translate(886,910)"><use href="#hx70"/><text class="k"><tspan x="35" y="17">Biomass</tspan><tspan x="35" y="30">(gas)</tspan></text></g>
<g id="h-hydro" transform="translate(886,1016)"><use href="#hx70"/><text class="k" x="35" y="23">Hydro</text></g>
<g id="h-wind" transform="translate(886,1077)"><use href="#hx70"/><text class="k" x="35" y="23">Wind</text></g>
<g id="h-solar" transform="translate(886,1133)"><use href="#hx70"/><text class="k" x="35" y="23">Solar</text></g>
<g id="g-diesel" transform="translate(997,854)"><use href="#cyE"/><text class="w"><tspan x="37.5" y="18">Diesel</tspan><tspan x="37.5" y="30">engine</tspan></text></g>
<g id="g-biogas" transform="translate(997,910)"><use href="#cyE"/><text class="w"><tspan x="37.5" y="18">Biomass</tspan><tspan x="37.5" y="30">(gas)</tspan></text></g>
<g id="g-biosolid" transform="translate(997,961)"><use href="#cyE"/><text class="w"><tspan x="37.5" y="18">Biomass</tspan><tspan x="37.5" y="30">(solid)</tspan></text></g>
<g id="g-minihydro" transform="translate(997,1017)"><use href="#cyE"/><text class="w" x="37.5" y="24">Mini-hydro</text></g>
<g id="g-wind" transform="translate(997,1076)"><use href="#cyE"/><text class="w" x="37.5" y="24">Wind</text></g>
<g id="g-pv" transform="translate(997,1131)"><use href="#cyE"/><text class="w" x="37.5" y="24">PV</text></g>
<g id="grid-capacity" transform="translate(975,671)"><use href="#cyE"/><text class="w"><tspan x="37.5" y="18">Grid</tspan><tspan x="37.5" y="30">capacity</tspan></text></g>
<g id="ele-grid" transform="translate(1143,740)"><use href="#hx70"/><text class="k"><tspan x="35" y="17">Ele. via</tspan><tspan x="35" y="30">grid</tspan></text></g>
<g id="grid" transform="translate(1252,749)"><rect width="70" height="30" class="bl"/><text class="w" x="35" y="19">Grid</text></g>
<g id="ele-mini" transform="translate(1147,962)"><use href="#hx70"/><text class="k"><tspan x="35" y="17">Ele. via</tspan><tspan x="35" y="30">mini/off</tspan></text></g>
<g id="offgrid" transform="translate(1252,967)"><rect width="70" height="29" class="bl"/><text class="w"><tspan x="35" y="12">Off grid /</tspan><tspan x="35" y="25">Mini grid</tspan></text></g>
<g id="electricity" transform="translate(1379,818)"><use href="#hx70"/><text class="k" x="35" y="23">Electricity</text></g>

<!-- ===== end-use ===== -->
<g id="conv-pump" transform="translate(1520,714)"><use href="#cyC"/><text class="wv"><tspan x="37.5" y="18">Conventional</tspan><tspan x="37.5" y="31">pump</tspan></text></g>
<g id="eff-pump" transform="translate(1520,754)"><use href="#cyE"/><text class="w"><tspan x="37.5" y="18">Efficient</tspan><tspan x="37.5" y="31">pump</tspan></text></g>
<g id="conv-greenhouse" transform="translate(1520,809)"><use href="#cyC"/><text class="wv"><tspan x="37.5" y="18">Conventional</tspan><tspan x="37.5" y="31">greenhouse</tspan></text></g>
<g id="eff-greenhouse" transform="translate(1520,849)"><use href="#cyE"/><text class="w"><tspan x="37.5" y="18">Efficient</tspan><tspan x="37.5" y="31">greenhouse</tspan></text></g>
<g id="conv-dairy" transform="translate(1520,905)"><use href="#cyC"/><text class="wv"><tspan x="37.5" y="18">Conventional</tspan><tspan x="37.5" y="31">Dairy farm</tspan></text></g>
<g id="eff-dairy" transform="translate(1520,944)"><use href="#cyE"/><text class="w"><tspan x="37.5" y="18">Conventional</tspan><tspan x="37.5" y="31">dairy farm</tspan></text></g>
<g id="conv-motor" transform="translate(1520,1030)"><use href="#cyC"/><text class="wv"><tspan x="37.5" y="18">Conventional</tspan><tspan x="37.5" y="31">motor</tspan></text></g>
<g id="eff-motor" transform="translate(1520,1069)"><use href="#cyE"/><text class="w"><tspan x="37.5" y="18">Efficient</tspan><tspan x="37.5" y="31">motor</tspan></text></g>
<g id="conv-lighting" transform="translate(1520,1123)"><use href="#cyC"/><text class="wv"><tspan x="37.5" y="18">Conventional</tspan><tspan x="37.5" y="31">lighting</tspan></text></g>
<g id="eff-lighting" transform="translate(1520,1162)"><use href="#cyE"/><text class="w"><tspan x="37.5" y="18">Efficient</tspan><tspan x="37.5" y="31">lighting</tspan></text></g>
<g id="conv-ac" transform="translate(1520,1215)"><use href="#cyC"/><text class="wv"><tspan x="37.5" y="18">Conventional</tspan><tspan x="37.5" y="31">air conditioner</tspan></text></g>
<g id="eff-ac" transform="translate(1520,1254)"><use href="#cyE"/><text class="w"><tspan x="37.5" y="18">Efficient</tspan><tspan x="37.5" y="31">air conditioner</tspan></text></g>
<g id="conv-ict" transform="translate(1520,1311)"><use href="#cyC"/><text class="wv"><tspan x="37.5" y="18">Conventional</tspan><tspan x="37.5" y="31">ICT</tspan></text></g>
<g id="eff-ict" transform="translate(1520,1350)"><use href="#cyE"/><text class="w"><tspan x="37.5" y="18">Efficient</tspan><tspan x="37.5" y="31">ICT</tspan></text></g>

<g id="h-pump" transform="translate(1654,736)"><use href="#hx63"/><text class="k" x="31.5" y="21">Pump</text></g>
<g id="h-greenhouse" transform="translate(1654,831)"><use href="#hx63"/><text class="k"><tspan x="31.5" y="15">Green</tspan><tspan x="31.5" y="27">-house</tspan></text></g>
<g id="h-dairy" transform="translate(1654,926)"><use href="#hx63"/><text class="k"><tspan x="31.5" y="15">Dairy</tspan><tspan x="31.5" y="27">farm</tspan></text></g>
<g id="h-motor" transform="translate(1654,1051)"><use href="#hx63"/><text class="k" x="31.5" y="21">Motor</text></g>
<g id="h-lighting" transform="translate(1654,1144)"><use href="#hx63"/><text class="k" x="31.5" y="21">Lighting</text></g>
<g id="h-ac" transform="translate(1654,1236)"><use href="#hx63"/><text class="k"><tspan x="31.5" y="15">Air</tspan><tspan x="31.5" y="27">conditioner</tspan></text></g>
<g id="h-ict" transform="translate(1654,1332)"><use href="#hx63"/><text class="k" x="31.5" y="21">ICT</text></g>

<g id="t-pump" transform="translate(1745,734)"><rect width="85" height="39" class="tl"/><rect x="4" y="4" width="77" height="31" class="ti"/><text class="w" x="42.5" y="23">Pump</text></g>
<g id="t-greenhouse" transform="translate(1745,829)"><rect width="85" height="39" class="tl"/><rect x="4" y="4" width="77" height="31" class="ti"/><text class="w" x="42.5" y="23">Greenhouse</text></g>
<g id="t-dairy" transform="translate(1745,924)"><rect width="85" height="39" class="tl"/><rect x="4" y="4" width="77" height="31" class="ti"/><text class="w" x="42.5" y="23">Dairy farm</text></g>
<g id="t-motor" transform="translate(1745,1049)"><rect width="85" height="39" class="tl"/><rect x="4" y="4" width="77" height="31" class="ti"/><text class="w" x="42.5" y="23">Motor</text></g>
<g id="t-lighting" transform="translate(1745,1142)"><rect width="85" height="39" class="tl"/><rect x="4" y="4" width="77" height="31" class="ti"/><text class="w" x="42.5" y="23">Lighting</text></g>
<g id="t-ac" transform="translate(1745,1234)"><rect width="85" height="39" class="tl"/><rect x="4" y="4" width="77" height="31" class="ti"/><text class="w"><tspan x="42.5" y="17">Air</tspan><tspan x="42.5" y="29">conditioner</tspan></text></g>
<g id="t-ict" transform="translate(1745,1330)"><rect width="85" height="39" class="tl"/><rect x="4" y="4" width="77" height="31" class="ti"/><text class="w" x="42.5" y="23">ICT</text></g>
</svg>
